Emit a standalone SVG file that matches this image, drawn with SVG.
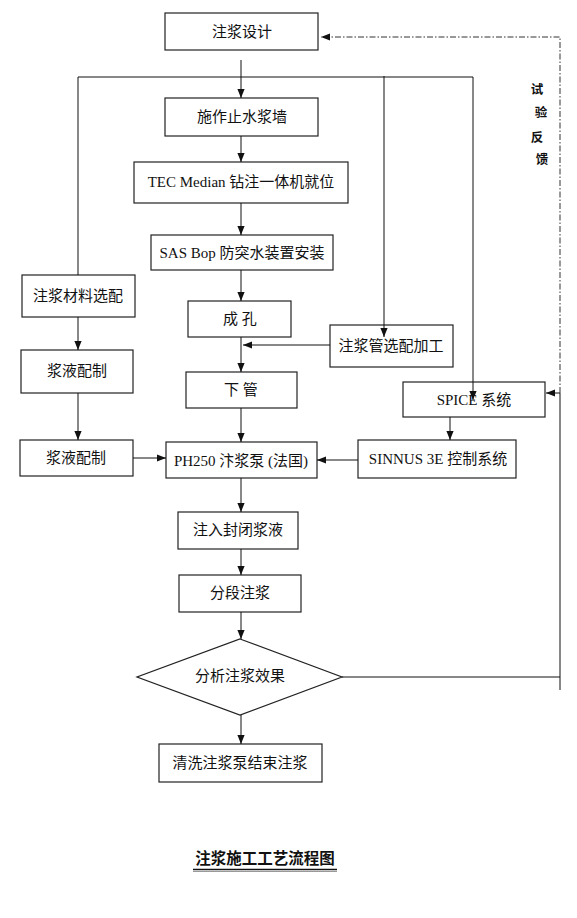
<svg xmlns="http://www.w3.org/2000/svg" width="577" height="918" viewBox="0 0 577 918">
<style>
.box{fill:#fff;stroke:#222;stroke-width:1.2}
.ln{fill:none;stroke:#111;stroke-width:1}
.dash{fill:none;stroke:#333;stroke-width:1;stroke-dasharray:6 2 1.5 2}
.t{font-family:"Liberation Serif","Noto Sans CJK SC",serif;font-size:15px;fill:#111;text-anchor:middle;dominant-baseline:central}
.v{font-family:"Noto Sans CJK SC",sans-serif;font-size:12.5px;font-weight:bold;fill:#111;text-anchor:middle;dominant-baseline:central}
.cap{font-family:"Noto Sans CJK SC",sans-serif;font-size:15.5px;font-weight:bold;fill:#111;text-anchor:middle}
</style>
<defs>
<marker id="ah" viewBox="0 0 10 10" refX="10" refY="5" markerWidth="9" markerHeight="9" markerUnits="userSpaceOnUse" orient="auto">
<path d="M0,1 L10,5 L0,9 Z" fill="#111"/>
</marker>
</defs>
<g id="n1"><rect class="box" x="165" y="13" width="153" height="37"/><text class="t" x="242" y="32">注浆设计</text></g>
<g id="n2"><rect class="box" x="165" y="98" width="153" height="38"/><text class="t" x="242" y="117">施作止水浆墙</text></g>
<g id="n3"><rect class="box" x="134" y="162" width="214" height="41"/><text class="t" x="241" y="182">TEC Median 钻注一体机就位</text></g>
<g id="n4"><rect class="box" x="151" y="235" width="182" height="35"/><text class="t" x="242" y="253">SAS Bop 防突水装置安装</text></g>
<g id="n5"><rect class="box" x="22" y="275" width="113" height="42"/><text class="t" x="78" y="296">注浆材料选配</text></g>
<g id="n6"><rect class="box" x="188" y="301" width="103" height="36"/><text class="t" x="240" y="319">成 孔</text></g>
<g id="n7"><rect class="box" x="330" y="325" width="123" height="42"/><text class="t" x="391" y="346">注浆管选配加工</text></g>
<g id="n8"><rect class="box" x="21" y="350" width="112" height="43"/><text class="t" x="77" y="371">浆液配制</text></g>
<g id="n9"><rect class="box" x="186" y="372" width="111" height="36"/><text class="t" x="241" y="390">下 管</text></g>
<g id="n10"><rect class="box" x="403" y="382" width="142" height="35"/><text class="t" x="474" y="400">SPICE 系统</text></g>
<g id="n11"><rect class="box" x="358" y="440" width="158" height="38"/><text class="t" x="438" y="459">SINNUS 3E  控制系统</text></g>
<g id="n12"><rect class="box" x="20" y="440" width="113" height="36"/><text class="t" x="76" y="458">浆液配制</text></g>
<g id="n13"><rect class="box" x="166" y="442" width="151" height="36"/><text class="t" x="241" y="461">PH250 汴浆泵 (法国)</text></g>
<g id="n14"><rect class="box" x="178" y="512" width="120" height="37"/><text class="t" x="238" y="530">注入封闭浆液</text></g>
<g id="n15"><rect class="box" x="179" y="575" width="122" height="37"/><text class="t" x="240" y="593">分段注浆</text></g>
<g id="n16"><polygon class="box" points="240,639 342,677 240,715 137,677"/><text class="t" x="240" y="676">分析注浆效果</text></g>
<g id="n17"><rect class="box" x="159" y="744" width="163" height="38"/><text class="t" x="240" y="763">清洗注浆泵结束注浆</text></g>
<g id="connectors">
<line class="ln" x1="241" y1="60" x2="241" y2="98" marker-end="url(#ah)"/>
<polyline class="ln" points="78,275 78,77 473,77"/>
<line class="ln" x1="384" y1="76" x2="384" y2="337" marker-end="url(#ah)"/>
<line class="ln" x1="473" y1="77" x2="473" y2="400" marker-end="url(#ah)"/>
<line class="ln" x1="241" y1="136" x2="241" y2="162" marker-end="url(#ah)"/>
<line class="ln" x1="241" y1="203" x2="241" y2="235" marker-end="url(#ah)"/>
<line class="ln" x1="241" y1="270" x2="241" y2="301" marker-end="url(#ah)"/>
<line class="ln" x1="241" y1="337" x2="241" y2="372" marker-end="url(#ah)"/>
<line class="ln" x1="330" y1="345" x2="243" y2="345" marker-end="url(#ah)"/>
<line class="ln" x1="78" y1="317" x2="78" y2="350" marker-end="url(#ah)"/>
<line class="ln" x1="78" y1="393" x2="78" y2="440" marker-end="url(#ah)"/>
<line class="ln" x1="133" y1="458" x2="166" y2="458" marker-end="url(#ah)"/>
<line class="ln" x1="241" y1="408" x2="241" y2="442" marker-end="url(#ah)"/>
<line class="ln" x1="450" y1="417" x2="450" y2="440" marker-end="url(#ah)"/>
<line class="ln" x1="358" y1="460" x2="317" y2="460" marker-end="url(#ah)"/>
<line class="ln" x1="241" y1="478" x2="241" y2="512" marker-end="url(#ah)"/>
<line class="ln" x1="241" y1="549" x2="241" y2="575" marker-end="url(#ah)"/>
<line class="ln" x1="241" y1="612" x2="241" y2="639" marker-end="url(#ah)"/>
<line class="ln" x1="241" y1="715" x2="241" y2="744" marker-end="url(#ah)"/>
<polyline class="ln" points="342,677 560,677"/>
<polyline class="ln" points="560,690 560,393 546,393" marker-end="url(#ah)"/>
<polyline class="dash" points="560,393 560,37 321,37" marker-end="url(#ah)"/>
</g>
<g id="label"><text class="v" x="537" y="88">试</text><text class="v" x="541" y="111">验</text><text class="v" x="537" y="136">反</text><text class="v" x="542" y="158">馈</text></g>
<g id="caption"><text class="cap" x="265" y="864">注浆施工工艺流程图</text><line x1="193" y1="869.5" x2="337" y2="869.5" stroke="#111" stroke-width="1.6"/><line x1="193" y1="871.5" x2="337" y2="871.5" stroke="#999" stroke-width="1"/></g>
</svg>
